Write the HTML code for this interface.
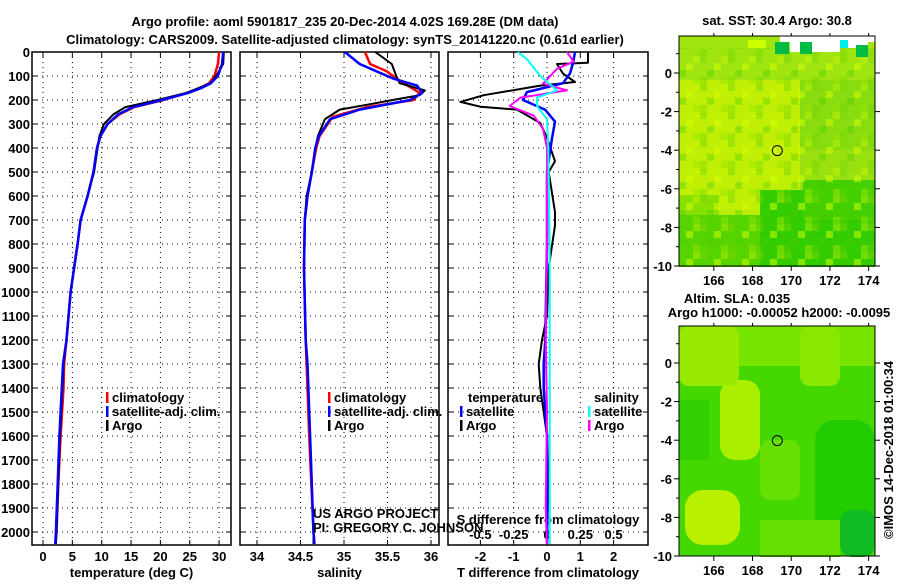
<!DOCTYPE html>
<html><head><meta charset="utf-8"><style>
body{margin:0;background:#fff;width:900px;height:580px;overflow:hidden}
svg text{font-family:"Liberation Sans",sans-serif;font-weight:bold;font-size:13px;fill:#000}
</style></head><body>
<svg id="c" width="900" height="580" xmlns="http://www.w3.org/2000/svg">
<defs>
<pattern id="mottle" width="28" height="28" patternUnits="userSpaceOnUse">
<rect x="0" y="0" width="7" height="7" fill="#7ad808" opacity="0.5"/>
<rect x="14" y="7" width="7" height="7" fill="#d8ff00" opacity="0.5"/>
<rect x="7" y="14" width="7" height="7" fill="#44cc00" opacity="0.35"/>
<rect x="21" y="21" width="7" height="7" fill="#9ae600" opacity="0.5"/>
<rect x="21" y="0" width="7" height="7" fill="#ccf800" opacity="0.4"/>
<rect x="0" y="21" width="7" height="7" fill="#66d400" opacity="0.35"/>
</pattern>
</defs>
<text x="345" y="26" text-anchor="middle" font-size="14">Argo profile: aoml 5901817_235 20-Dec-2014 4.02S 169.28E (DM data)</text>
<text x="345" y="44" text-anchor="middle" font-size="14">Climatology: CARS2009. Satellite-adjusted climatology: synTS_20141220.nc (0.61d earlier)</text>
<g id="maps"></g>
<g id="panels"></g>
</svg>
<script>
// ---- data ----
const depthTicks=[0,100,200,300,400,500,600,700,800,900,1000,1100,1200,1300,1400,1500,1600,1700,1800,1900,2000];
const tempTicks=[0,5,10,15,20,25,30];
const salTicks=[34,34.5,35,35.5,36];
const tdiffTicks=[-2,-1,0,1,2];
const sdiffTicks=[-0.5,-0.25,0,0.25,0.5];
const tArgoD=[0,50,100,130,150,170,200,230,260,300,350,400,500,600,700,800,900,1000,1200,1300,1400,1600,1800,2000,2050];
const tArgoV=[30.8,30.7,29.5,28.5,26.5,24.5,19.5,14.0,12.0,10.4,9.6,9.3,8.7,7.6,6.4,5.9,5.3,4.7,4.0,3.5,3.3,2.9,2.6,2.3,2.2];
const tClimD=[0,50,100,130,150,170,200,230,260,300,350,400,500,600,700,800,900,1000,1200,1300,1400,1600,1800,2000,2050];
const tClimV=[30.0,29.8,29.2,28.3,26.8,24.5,20.5,15.5,13.0,11.0,9.8,9.2,8.6,7.6,6.4,5.9,5.3,4.7,4.0,3.6,3.5,3.0,2.6,2.3,2.1];
const tSatV=[30.7,30.5,29.8,28.6,27.0,24.8,20.3,15.3,12.8,11.0,9.8,9.2,8.6,7.6,6.4,5.9,5.3,4.7,4.0,3.4,3.2,2.8,2.5,2.2,2.1];
const sArgoD=[0,50,100,130,160,180,200,220,240,280,350,400,500,600,700,900,1200,1300,1600,2000,2050];
const sArgoV=[35.36,35.55,35.60,35.64,35.93,35.87,35.56,35.26,34.95,34.78,34.70,34.67,34.63,34.57,34.55,34.54,34.56,34.58,34.61,34.65,34.65];
const sClimD=[0,50,80,120,170,200,230,270,350,400,500,600,700,900,1200,1300,1600,2000,2050];
const sClimV=[35.24,35.30,35.49,35.64,35.87,35.80,35.26,34.87,34.72,34.68,34.63,34.58,34.55,34.54,34.56,34.57,34.60,34.65,34.66];
const sSatD=[0,50,80,110,140,170,200,240,280,350,400,500,600,700,900,1200,1300,1600,2000,2050];
const sSatV=[35.01,35.18,35.37,35.56,35.84,35.90,35.76,35.18,34.84,34.71,34.67,34.63,34.58,34.55,34.54,34.56,34.58,34.61,34.65,34.66];
const dTArgoD=[0,45,50,90,125,140,180,208,228,240,296,358,455,500,667,722,900,1100,1200,1300,1400,1500,1600,1800,2000,2050];
const dTArgoV=[1.23,1.23,0.3,0.48,0.84,-0.2,-1.9,-2.6,-2.0,-0.9,-0.2,0.0,0.24,0.05,0.24,0.24,0.05,0.0,-0.15,-0.25,-0.2,-0.1,0.0,0.05,0.0,0.0];
const dTSatD=[0,47,89,130,167,200,240,290,360,500,800,1200,1300,1400,1600,2000,2050];
const dTSatV=[0.84,0.78,0.69,0.48,-0.6,-0.72,-0.06,0.24,0.15,0.0,0.0,-0.05,-0.1,-0.1,0.0,0.0,0.0];
const dSArgoD=[0,40,70,132,160,190,225,265,320,400,800,1200,1500,1900,2050];
const dSArgoV=[0.15,0.2,0.075,-0.03,0.15,-0.2,-0.28,-0.1,-0.03,0.0,0.0,-0.01,0.0,-0.01,0.0];
const dSSatD=[0,30,100,160,190,225,280,400,800,1200,1600,2050];
const dSSatV=[-0.22,-0.15,-0.05,0.075,-0.075,-0.075,0.0,0.01,0.02,0.02,0.02,0.02];
const mapLonTicks=[166,168,170,172,174];
const mapLatTicks=[0,-2,-4,-6,-8,-10];
const argoLon=169.28, argoLat=-4.02;

// ---- helpers ----
const NS='http://www.w3.org/2000/svg';
function mk(tag,attrs,parent){const e=document.createElementNS(NS,tag);for(const k in attrs)e.setAttribute(k,attrs[k]);parent.appendChild(e);return e;}
const PT=52, PB=545, D0=52, DPX=0.24;
const yD=d=>D0+d*DPX;
const panels=document.getElementById('panels');

function panel(name,x0,x1,xScale,ticks,fmt,title){
  const g=mk('g',{},panels);
  
  
  ticks.forEach(t=>{const x=xScale(t);mk('line',{x1:x,x2:x,y1:PT,y2:PB,stroke:'#000','stroke-width':1,'stroke-dasharray':'1,4'},g);});
  depthTicks.forEach(d=>{const y=yD(d);mk('line',{x1:x0,x2:x1,y1:y,y2:y,stroke:'#000','stroke-width':1,'stroke-dasharray':'1,4'},g);
    mk('line',{x1:x0,x2:x0+5,y1:y,y2:y,stroke:'#000'},g);mk('line',{x1:x1-5,x2:x1,y1:y,y2:y,stroke:'#000'},g);});
  ticks.forEach(t=>{const x=xScale(t);mk('line',{x1:x,x2:x,y1:PB-5,y2:PB,stroke:'#000'},g);mk('line',{x1:x,x2:x,y1:PT,y2:PT+5,stroke:'#000'},g);
    if(fmt){const tx=mk('text',{x:x,y:PB+16,'text-anchor':'middle'},g);tx.textContent=fmt(t);}});
  mk('rect',{x:x0,y:PT,width:x1-x0,height:PB-PT,fill:'none',stroke:'#000','stroke-width':1.5},g);
  if(title){const tt=mk('text',{x:(x0+x1)/2,y:577,'text-anchor':'middle'},g);tt.textContent=title;}
  return g;
}
function line(g,name,D,V,xs,color,w){
  const pts=D.map((d,i)=>xs(V[i]).toFixed(1)+','+yD(d).toFixed(1)).join(' ');
  const p=mk('polyline',{points:pts,fill:'none',stroke:color,'stroke-width':w||2,'stroke-linejoin':'round'},g);
  
  
}
function legend(g,x,y,items){
  items.forEach((it,i)=>{
    mk('rect',{x:x,y:y+i*14-10,width:2.5,height:11,fill:it[1]},g);
    const t=mk('text',{x:x+6,y:y+i*14},g);t.textContent=it[0];
    
    
  });
}

// y-axis labels
const yl=mk('g',{},panels);


depthTicks.forEach(d=>{const t=mk('text',{x:30,y:yD(d)+5,'text-anchor':'end'},yl);t.textContent=d;});

// panel 1 temperature
const xT=v=>43+v*5.87;
const g1=panel('temperature-panel',32,231,xT,tempTicks,v=>v,'temperature (deg C)');
line(g1,'temp-climatology',tClimD,tClimV,xT,'#f00',2.5);
line(g1,'temp-argo',tArgoD,tArgoV,xT,'#000',2);
line(g1,'temp-satellite',tClimD,tSatV,xT,'#00f',2.5);
legend(g1,106,402,[['climatology','#f00'],['satellite-adj. clim.','#00f'],['Argo','#000']]);

// panel 2 salinity
const xS=v=>257+(v-34)*87;
const g2=panel('salinity-panel',240,439,xS,salTicks,v=>v,'salinity');
line(g2,'sal-climatology',sClimD,sClimV,xS,'#f00',2.5);
line(g2,'sal-argo',sArgoD,sArgoV,xS,'#000',2);
line(g2,'sal-satellite',sSatD,sSatV,xS,'#00f',2.5);
legend(g2,328,402,[['climatology','#f00'],['satellite-adj. clim.','#00f'],['Argo','#000']]);
const c1=mk('text',{x:313,y:518,'font-weight':'normal','font-size':12},g2);c1.textContent='US ARGO PROJECT';
const c2=mk('text',{x:313,y:532,'font-weight':'normal','font-size':12},g2);c2.textContent='PI: GREGORY C. JOHNSON';

// panel 3 differences
const xDT=v=>547+v*33.3;
const xDS=v=>547+v*133.2;
const g3=panel('difference-panel',448,648,xDT,tdiffTicks,v=>v,'T difference from climatology');
sdiffTicks.forEach(s=>{const t=mk('text',{x:xDS(s),y:539,'text-anchor':'middle'},g3);t.textContent=s;});
const st=mk('text',{x:548,y:524,'text-anchor':'middle'},g3);st.textContent='S difference from climatology';
line(g3,'tdiff-argo',dTArgoD,dTArgoV,xDT,'#000',2);
line(g3,'tdiff-satellite',dTSatD,dTSatV,xDT,'#00f',2.5);
line(g3,'sdiff-argo',dSArgoD,dSArgoV,xDS,'#f0f',2);
line(g3,'sdiff-satellite',dSSatD,dSSatV,xDS,'#0ff',2);
const lt=mk('text',{x:468,y:402},g3);lt.textContent='temperature';
legend(g3,460,416,[['satellite','#00f'],['Argo','#000']]);
const ls=mk('text',{x:594,y:402},g3);ls.textContent='salinity';
legend(g3,588,416,[['satellite','#0ff'],['Argo','#f0f']]);

// ---- maps ----
const maps=document.getElementById('maps');
const mx=lon=>679+(lon-164.2)*19.35;
function map(name,top,lat0y,fills,mottle){
  const g=mk('g',{},maps);
  
  
  const my=lat=>lat0y-lat*19.3;
  const bottom=my(-10);
  mk('rect',{x:679,y:top,width:196,height:bottom-top,fill:fills[0]},g);
  fills[1].forEach(f=>mk('rect',{x:f[0],y:f[1],width:f[2],height:f[3],fill:f[4],rx:f[5]||0},g));
  if(mottle)mk('rect',{x:679,y:top+12,width:196,height:bottom-top-12,fill:'url(#mottle)'},g);
  (fills[2]||[]).forEach(f=>mk('rect',{x:f[0],y:f[1],width:f[2],height:f[3],fill:f[4]},g));
  mk('rect',{x:679,y:top,width:196,height:bottom-top,fill:'none',stroke:'#000'},g);
  mapLatTicks.forEach(l=>{const y=my(l);mk('line',{x1:674,x2:679,y1:y,y2:y,stroke:'#000'},g);mk('line',{x1:875,x2:880,y1:y,y2:y,stroke:'#000'},g);
    const t=mk('text',{x:672,y:y+5,'text-anchor':'end'},g);t.textContent=l;});
  [1,-1,-3,-5,-7,-9].forEach(l=>{const y=my(l);mk('line',{x1:676,x2:679,y1:y,y2:y,stroke:'#000'},g);});
  mapLonTicks.forEach(l=>{const x=mx(l);mk('line',{x1:x,x2:x,y1:bottom,y2:bottom+5,stroke:'#000'},g);mk('line',{x1:x,x2:x,y1:top-3,y2:top,stroke:'#000'},g);
    const t=mk('text',{x:x,y:bottom+19,'text-anchor':'middle'},g);t.textContent=l;});
  const c=mk('circle',{cx:mx(argoLon),cy:my(argoLat),r:5,fill:'none',stroke:'#000','stroke-width':1},g);
  
  
  return g;
}
const gm1=map('sst-map',36,73,['#b8ec08',[
 [679,36,196,45,'#a0e410'],[679,80,125,130,'#c0ee04'],[800,80,75,70,'#88dc10'],[800,150,75,40,'#9ae010'],
 [760,190,115,77,'#33cc00'],[803,180,72,40,'#44d000'],[679,215,81,52,'#55d400'],[679,195,40,20,'#88e000']],
 [[780,36,95,6,'#ffffff'],[790,42,50,10,'#ffffff'],[840,42,28,6,'#ffffff'],[800,42,12,12,'#00bb44'],[775,42,14,12,'#00bb44'],
 [856,45,12,12,'#00bb44'],[840,40,8,8,'#00eeee'],[748,40,18,8,'#ccff00']]],true);
const t1=mk('text',{x:777,y:25,'text-anchor':'middle'},gm1);t1.textContent='sat. SST: 30.4 Argo: 30.8';
const gm2=map('sla-map',326,363,['#44d800',[
 [679,326,196,40,'#77e400'],[720,380,40,80,'#aaee00',15],[685,490,55,55,'#b8f000',18],[679,326,60,60,'#99ea00',10],
 [800,326,40,60,'#88e800',10],[760,440,40,60,'#66e000',10],[815,420,60,120,'#22cc00',20],[840,510,35,47,'#11bb22',12],
 [760,520,80,37,'#66e000'],[679,400,30,60,'#33d000']]],false);
const t2=mk('text',{x:737,y:303,'text-anchor':'middle'},gm2);t2.textContent='Altim. SLA: 0.035';
const t3=mk('text',{x:779,y:317,'text-anchor':'middle'},gm2);t3.textContent='Argo h1000: -0.00052 h2000: -0.0095';
const cr=mk('text',{x:0,y:0,transform:'translate(893,450) rotate(-90)','text-anchor':'middle','font-weight':'normal','font-size':12},maps);
cr.textContent='©IMOS 14-Dec-2018 01:00:34';


</script>
</body></html>
